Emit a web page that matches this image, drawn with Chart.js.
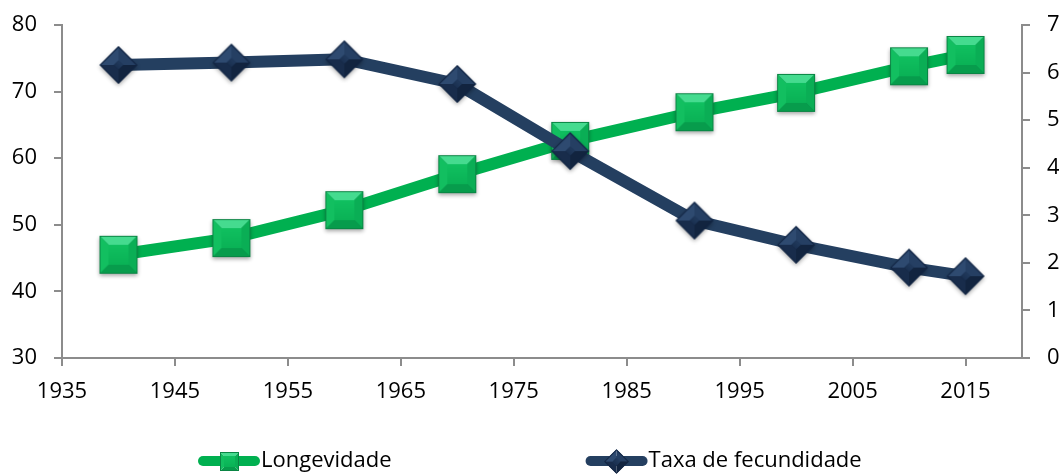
<!DOCTYPE html>
<html>
<head>
<meta charset="utf-8">
<script src="https://cdn.jsdelivr.net/npm/chart.js@4.4.1/dist/chart.umd.min.js"></script>
<style>
  html, body { margin: 0; padding: 0; background: #fff; }
  #wrap { width: 1059px; height: 475px; }
</style>
</head>
<body>
<div id="wrap"><canvas id="grafico" width="1059" height="475"></canvas></div>
<script>
(function () {
    'use strict';

    // =================== Dados ===================

    const anos = [1940, 1950, 1960, 1970, 1980, 1991, 2000, 2010, 2015];
    const longevidade = [45.5, 48.0, 52.2, 57.6, 62.6, 66.9, 69.8, 73.8, 75.5];
    const fecundidade = [6.16, 6.21, 6.28, 5.76, 4.35, 2.89, 2.38, 1.90, 1.72];
    const ticksAnos = [1935, 1945, 1955, 1965, 1975, 1985, 1995, 2005, 2015];
    const nomes = ['Longevidade', 'Taxa de fecundidade'];

    const VERDE = '#00B050';
    const AZUL = '#243F60';
    const CINZA = '#8c8c8c';
    const FONTE = "'Open Sans', sans-serif";

    // =================== Marcadores (quadrado / losango com chanfro) ===================

    function poly(ctx, pts, cor) {
        ctx.beginPath();
        ctx.moveTo(pts[0][0], pts[0][1]);
        for (let k = 1; k < pts.length; k++) ctx.lineTo(pts[k][0], pts[k][1]);
        ctx.closePath();
        ctx.fillStyle = cor;
        ctx.fill();
    }

    function marcador(lado, chanfro, girar, cores, sombra) {
        const tam = Math.ceil(lado * 1.42) + 10;
        const cv = document.createElement('canvas');
        cv.width = tam;
        cv.height = tam;
        const ctx = cv.getContext('2d');
        const h = lado / 2, i = h - chanfro;
        ctx.translate(tam / 2, tam / 2);
        if (girar) ctx.rotate(Math.PI / 4);

        if (sombra) {
            ctx.save();
            ctx.shadowColor = 'rgba(0,0,0,0.35)';
            ctx.shadowBlur = 4;
            ctx.shadowOffsetY = 2;
            ctx.fillStyle = cores.borda;
            ctx.fillRect(-h, -h, lado, lado);
            ctx.restore();
        }

        poly(ctx, [[-h, -h], [h, -h], [i, -i], [-i, -i]], cores.cima);
        poly(ctx, [[h, -h], [h, h], [i, i], [i, -i]], cores.dir);
        poly(ctx, [[h, h], [-h, h], [-i, i], [i, i]], cores.baixo);
        poly(ctx, [[-h, h], [-h, -h], [-i, -i], [-i, i]], cores.esq);
        if (i > 0) {
            const g = ctx.createLinearGradient(0, -i, 0, i);
            g.addColorStop(0, cores.face1);
            g.addColorStop(1, cores.face2);
            ctx.fillStyle = g;
            ctx.fillRect(-i, -i, 2 * i, 2 * i);
        }
        ctx.strokeStyle = cores.borda;
        ctx.lineWidth = 1;
        ctx.strokeRect(-h + 0.5, -h + 0.5, lado - 1, lado - 1);
        return cv;
    }

    const coresVerde = {
        cima: '#45DB8F', esq: '#12BF60', dir: '#0AAE55', baixo: '#079C4C',
        face1: '#10C060', face2: '#0AB256', borda: '#0A8544'
    };
    const coresAzul = {
        cima: '#253F63', esq: '#2E4A70', dir: '#12243F', baixo: '#182C4B',
        face1: '#213A5D', face2: '#1A3050', borda: '#132644'
    };

    const quadrado = marcador(38, 9, false, coresVerde, true);
    const losango = marcador(26.5, 10, true, coresAzul, true);
    const quadradoLeg = marcador(19, 4, false, coresVerde, false);
    const losangoLeg = marcador(17.5, 6, true, coresAzul, false);

    // =================== Legenda (linha + marcador) ===================

    const legendaPlugin = {
        id: 'legendaLinha',
        afterDraw(chart) {
            const ctx = chart.ctx;
            const itens = chart.data.datasets.map(ds => ({
                texto: ds.label, cor: ds.borderColor, marca: ds.marcaLegenda
            }));
            ctx.save();
            ctx.font = '22px ' + FONTE;
            const amostra = 62, folga = 1, espaco = 194;
            const larguras = itens.map(it => amostra + folga + ctx.measureText(it.texto).width);
            const total = larguras.reduce((a, b) => a + b, 0) + espaco * (itens.length - 1);
            let x = Math.round((chart.width - total) / 2);
            const yLinha = 461;

            itens.forEach((it, k) => {
                ctx.strokeStyle = it.cor;
                ctx.lineWidth = 10;
                ctx.lineCap = 'round';
                ctx.beginPath();
                ctx.moveTo(x + 5, yLinha);
                ctx.lineTo(x + amostra - 5, yLinha);
                ctx.stroke();
                const m = it.marca;
                ctx.drawImage(m, Math.round(x + amostra / 2 - m.width / 2), Math.round(yLinha - m.height / 2));
                ctx.fillStyle = '#000';
                ctx.textBaseline = 'alphabetic';
                ctx.textAlign = 'left';
                ctx.fillText(it.texto, x + amostra + folga, 467);
                x += larguras[k] + espaco;
            });
            ctx.restore();
        }
    };

    // =================== Gráfico ===================

    function pontos(valores) {
        return anos.map((a, k) => ({ x: a, y: valores[k] }));
    }

    function semFolga() {
        return { left: 0, top: 0, right: 0, bottom: 0 };
    }

    const eixoY = (min, max, passo, posicao, largura) => ({
        type: 'linear',
        position: posicao,
        min: min,
        max: max,
        ticks: { stepSize: passo, padding: 17, color: '#000', font: { family: FONTE, size: 22 } },
        grid: { drawOnChartArea: false, drawTicks: true, tickLength: 8, color: CINZA, lineWidth: 2 },
        border: { display: true, color: CINZA, width: 2 },
        afterFit(scale) {
            scale.width = largura;
            scale.getPadding = semFolga;
        }
    });

    new Chart(document.getElementById('grafico'), {
        type: 'line',
        data: {
            datasets: [{
                label: nomes[0],
                data: pontos(longevidade),
                yAxisID: 'y',
                borderColor: VERDE,
                borderWidth: 12,
                borderCapStyle: 'round',
                borderJoinStyle: 'round',
                pointStyle: quadrado,
                pointRadius: 19,
                marcaLegenda: quadradoLeg,
                order: 2
            }, {
                label: nomes[1],
                data: pontos(fecundidade),
                yAxisID: 'y1',
                borderColor: AZUL,
                borderWidth: 12,
                borderCapStyle: 'round',
                borderJoinStyle: 'round',
                pointStyle: losango,
                pointRadius: 19,
                marcaLegenda: losangoLeg,
                order: 1
            }]
        },
        options: {
            responsive: false,
            animation: false,
            events: [],
            clip: false,
            // os marcadores são imagens, não precisam de folga automática
            layout: { autoPadding: false, padding: { top: 25, left: 0, right: 0, bottom: 0 } },
            plugins: {
                legend: { display: false },
                tooltip: { enabled: false }
            },
            scales: {
                x: {
                    type: 'linear',
                    min: 1935,
                    max: 2020,
                    afterBuildTicks(scale) {
                        scale.ticks = ticksAnos.map(v => ({ value: v }));
                    },
                    ticks: {
                        padding: 13,
                        color: '#000',
                        maxRotation: 0,
                        autoSkip: false,
                        font: { family: FONTE, size: 22 },
                        callback: v => String(v)
                    },
                    grid: { drawOnChartArea: false, drawTicks: true, tickLength: 8, color: CINZA, lineWidth: 2 },
                    border: { display: true, color: CINZA, width: 2 },
                    afterFit(scale) {
                        scale.height = 117;
                        scale.getPadding = semFolga;
                    }
                },
                y: eixoY(30, 80, 10, 'left', 62),
                y1: eixoY(0, 7, 1, 'right', 37)
            }
        },
        plugins: [legendaPlugin]
    });
})();
</script>
</body>
</html>
